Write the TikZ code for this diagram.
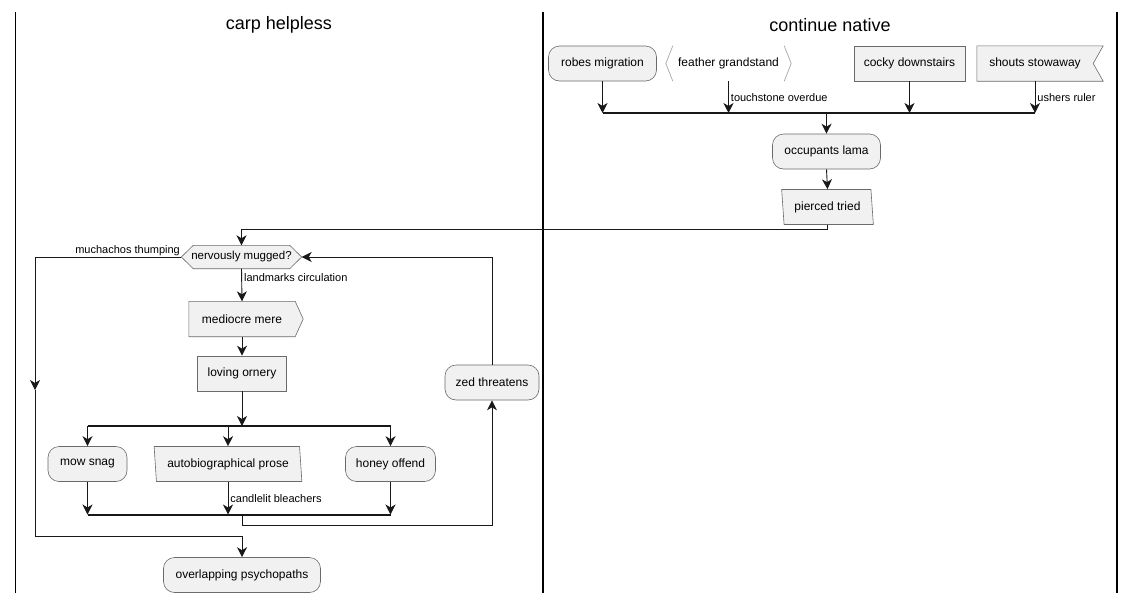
\documentclass[tikz,border=0pt]{standalone}
\usepackage{fontspec}
\setmainfont{Liberation Sans}
\usetikzlibrary{arrows.meta,shapes.geometric}
\pgfdeclarelayer{background}
\pgfsetlayers{background,main}

\definecolor{actfill}{HTML}{F1F1F1}
\definecolor{edgegray}{HTML}{6A6A6A}
\definecolor{wire}{HTML}{181818}
\newcommand\actfont{\fontsize{12}{14}\selectfont}
\newcommand\askfont{\fontsize{11.5}{13}\selectfont}
\newcommand\lblfont{\fontsize{11}{13}\selectfont}
\newcommand\lanefont{\fontsize{18}{21}\selectfont}

\tikzset{
  actbase/.style={font=\actfont, minimum height=35pt, inner xsep=6pt, inner ysep=0pt},
  activity/.style={actbase, draw=edgegray, fill=actfill, line width=0.6pt, rounded corners=11pt},
  plainbox/.style={actbase, draw=edgegray, fill=actfill, line width=0.6pt},
  iobox/.style={actbase, trapezium, trapezium left angle=101, trapezium right angle=79,
    trapezium stretches=true, draw=edgegray, fill=actfill, line width=0.6pt},
  holder/.style={actbase},
  outline/.style={draw=edgegray, fill=actfill, line width=0.6pt},
  bracket/.style={draw=black!35, line width=0.7pt},
  flow/.style={-{Stealth[length=10pt,width=10pt,inset=3pt]}, draw=wire, line width=0.9pt},
  bar/.style={draw=wire, line width=2pt},
  lbl/.style={font=\lblfont, inner sep=2pt},
  lanetitle/.style={font=\lanefont},
  lane/.style={draw=black, line width=1.4pt},
}

\begin{document}
\begin{tikzpicture}[x=1pt,y=-1pt]
    \useasboundingbox (0,0) rectangle (1136,603);

    % swimlanes
    \draw[lane] (15.5,12) -- (15.5,593);
    \draw[lane] (543,12) -- (543,593);
    \draw[lane] (1117,12) -- (1117,593);
    \node[lanetitle] (laneA) at (279,25) {carp helpless};
    \node[lanetitle] (laneB) at (830,25) {continue native};

    % continue native
    \node[activity, minimum width=108pt] (robes) at (602.5,63.5) {robes migration};
    \node[holder, minimum width=125pt] (feather) at (728.5,63.5) {feather grandstand};
    \node[plainbox, minimum width=111pt] (cocky) at (909.5,63.5) {cocky downstairs};
    \node[holder, minimum width=116pt] (shouts) at (1035,63.5) {shouts stowaway};

    \coordinate (forkTop) at (826.5,113);
    \node[activity, minimum width=108pt] (occupants) at (826.5,151.5) {occupants lama};
    \node[iobox, minimum width=92pt] (pierced) at (827.5,207) {pierced tried};

    % carp helpless
    \node[holder, font=\askfont, minimum width=120pt, minimum height=23pt] (mugged) at (241.5,257) {nervously mugged?};
    \node[holder, minimum width=106pt] (mediocre) at (242,319) {mediocre mere};
    \node[plainbox, minimum width=89pt] (loving) at (242,373.5) {loving ornery};
    \node[activity, minimum width=94pt] (zed) at (492,382.5) {zed threatens};

    \coordinate (splitTop) at (242,426);
    \node[activity, minimum width=79pt] (mow) at (87.5,464) {mow snag};
    \node[iobox, minimum width=148pt] (auto) at (228,464) {autobiographical prose};
    \node[activity, minimum width=90pt] (honey) at (390.5,464) {honey offend};
    \coordinate (splitBot) at (242,514.5);
    \coordinate (loopBot) at (242,525.5);

    \coordinate (leftTop) at (35,257);
    \coordinate (leftMid) at (35,390);
    \coordinate (leftBot) at (35,536.5);
    \node[activity, minimum width=157pt] (overlap) at (242,575) {overlapping psychopaths};

    % outlines of the odd shapes
    \begin{pgfonlayer}{background}
        \draw[bracket] ([xshift=7pt]feather.north west) -- (feather.west) -- ([xshift=7pt]feather.south west);
        \draw[bracket] ([xshift=-7pt]feather.north east) -- (feather.east) -- ([xshift=-7pt]feather.south east);
        \path[outline] (shouts.north west) -- ([xshift=10pt]shouts.north east) -- (shouts.east)
            -- ([xshift=10pt]shouts.south east) -- (shouts.south west) -- cycle;
        \path[outline] (mugged.west) -- ([xshift=12pt]mugged.north west) -- ([xshift=-12pt]mugged.north east)
            -- (mugged.east) -- ([xshift=-12pt]mugged.south east) -- ([xshift=12pt]mugged.south west) -- cycle;
        \path[outline] (mediocre.north west) -- (mediocre.north east) -- ([xshift=8pt]mediocre.east)
            -- (mediocre.south east) -- (mediocre.south west) -- cycle;
    \end{pgfonlayer}

    % fork on the right
    \draw[bar] (robes.south |- forkTop) -- (shouts.south |- forkTop);
    \draw[flow] (robes.south) -- (robes.south |- forkTop);
    \draw[flow] (feather.south) -- node[lbl, right] {touchstone overdue} (feather.south |- forkTop);
    \draw[flow] (cocky.south) -- (cocky.south |- forkTop);
    \draw[flow] (shouts.south) -- node[lbl, right] {ushers ruler} (shouts.south |- forkTop);
    \draw[flow] (forkTop) -- (occupants.north);
    \draw[flow] (occupants.south) -- (pierced.north);
    \draw[flow] (pierced.south) -- ++(0,5) -| (mugged.north);

    % loop
    \draw[flow] (mugged.west) node[lbl, anchor=south east, inner sep=1pt] {muchachos thumping}
        -- (leftTop) -- (leftMid);
    \draw[flow] (leftMid) -- (leftBot) -| (overlap.north);
    \draw[flow] (mugged.south) -- node[lbl, right, pos=0.27] {landmarks circulation} (mediocre.north);
    \draw[flow] (mediocre.south) -- (loving.north);
    \draw[flow] (loving.south) -- (splitTop);

    \draw[bar] (mow.north |- splitTop) -- (honey.north |- splitTop);
    \draw[flow] (mow.north |- splitTop) -- (mow.north);
    \draw[flow] (auto.north |- splitTop) -- (auto.north);
    \draw[flow] (honey.north |- splitTop) -- (honey.north);

    \draw[bar] (mow.south |- splitBot) -- (honey.south |- splitBot);
    \draw[flow] (mow.south) -- (mow.south |- splitBot);
    \draw[flow] (auto.south) -- node[lbl, right] {candlelit bleachers} (auto.south |- splitBot);
    \draw[flow] (honey.south) -- (honey.south |- splitBot);

    \draw[flow] (splitBot) -- (loopBot) -| (zed.south);
    \draw[flow] (zed.north) |- (mugged.east);

\end{tikzpicture}
\end{document}
